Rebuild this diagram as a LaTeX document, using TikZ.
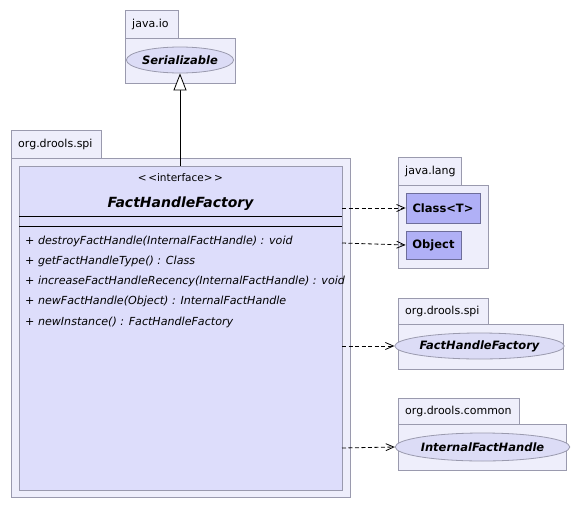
\documentclass[tikz,border=0pt]{standalone}
\usepackage{fontspec}
\setmainfont{DejaVu Sans}[Ligatures=NoCommon]
\usetikzlibrary{arrows.meta,shapes.geometric}
\definecolor{pkgfill}{HTML}{EEEEFB}
\definecolor{pkgline}{HTML}{9A9AAE}
\definecolor{clsfill}{HTML}{DDDDFB}
\definecolor{ellfill}{HTML}{DCDCF6}
\definecolor{boxfill}{HTML}{B0B0F6}
\definecolor{boxline}{HTML}{6E6E9A}
\tikzset{
  pkg/.style={draw=pkgline, fill=pkgfill, line width=0.8pt},
  tabtext/.style={font=\fontsize{11}{13}\selectfont, anchor=west, inner sep=0pt},
  ell/.style={ellipse, draw=pkgline, fill=ellfill, line width=0.8pt, inner sep=0pt, font=\fontsize{11.5}{13}\bfseries\itshape\selectfont},
  cbox/.style={draw=boxline, fill=boxfill, line width=0.8pt, inner sep=0pt, font=\fontsize{11.5}{13}\bfseries\selectfont},
  meth/.style={font=\fontsize{11.1}{12}\itshape\selectfont, anchor=west, inner sep=0pt},
  dep/.style={dash pattern=on 4pt off 2.5pt, line width=0.8pt, -{Straight Barb[length=8pt,width=7pt]}}
}
\begin{document}
\begin{tikzpicture}[x=1pt,y=-1pt]
\useasboundingbox[fill=white] (0,0) rectangle (579,509);
% java.io
\draw[pkg] (125,10) rectangle (178,38);
\draw[pkg] (125,38) rectangle (235,83);
\node[tabtext] (tio) at (132,24) {java.io};
\node[ell, minimum width=106pt, minimum height=26pt] (ser) at (180,60) {Serializable};
% org.drools.spi main
\draw[pkg] (11,130) rectangle (101,158);
\draw[pkg] (11,158) rectangle (350,497);
\node[tabtext] (tspi) at (18,144) {org.drools.spi};
\draw[draw=pkgline, fill=clsfill, line width=0.8pt] (19,166) rectangle (342,490);
\node[font=\fontsize{10.5}{12}\selectfont, inner sep=0pt] (st) at (180.5,178) {{<}\kern1.5pt{<}interface{>}\kern1.5pt{>}};
\node[font=\fontsize{14}{15}\bfseries\itshape\selectfont, inner sep=0pt] (fhf) at (180.5,204) {FactHandleFactory};
\draw[line width=0.9pt] (19,216) -- (342,216);
\draw[line width=0.9pt] (19,226) -- (342,226);
\node[meth] (m1) at (25,241) {+ destroyFactHandle(InternalFactHandle) : void};
\node[meth] (m2) at (25,261) {+ getFactHandleType() : Class};
\node[meth] (m3) at (25,281) {+ increaseFactHandleRecency(InternalFactHandle) : void};
\node[meth] (m4) at (25,301) {+ newFactHandle(Object) : InternalFactHandle};
\node[meth] (m5) at (25,322) {+ newInstance() : FactHandleFactory};
\coordinate (ctop) at (180,166);
\draw[line width=0.8pt, -{Triangle[open, length=17pt, width=13pt, fill=white]}] (ctop) -- (ser.south);
% java.lang
\draw[pkg] (398,157) rectangle (461,185);
\draw[pkg] (398,185) rectangle (488,268);
\node[tabtext] (tlang) at (405,171) {java.lang};
\node[cbox, minimum width=74pt, minimum height=30pt] (cls) at (443,208) {Class{<}T{>}};
\node[cbox, minimum width=55pt, minimum height=28pt] (obj) at (433.5,245) {Object};
% org.drools.spi second
\draw[pkg] (398,298) rectangle (488,324);
\draw[pkg] (398,324) rectangle (563,369);
\node[tabtext] (tspi2) at (405,311) {org.drools.spi};
\node[ell, minimum width=147pt, minimum height=26pt] (fhf2) at (479.5,346) {FactHandleFactory};
% org.drools.common
\draw[pkg] (398,398) rectangle (519,424);
\draw[pkg] (398,424) rectangle (566,470);
\node[tabtext] (tcom) at (405,411) {org.drools.common};
\node[ell, minimum width=153pt, minimum height=28pt] (ifh) at (482.5,447) {InternalFactHandle};
% dependencies
\coordinate (d1) at (342,208);
\coordinate (d2) at (342,243);
\coordinate (d3) at (342,346);
\coordinate (d4) at (342,448);
\draw[dep] (d1) -- (cls.west);
\draw[dep] (d2) -- (obj.west);
\draw[dep] (d3) -- (fhf2.west);
\draw[dep] (d4) -- (ifh.west);
\end{tikzpicture}
\end{document}
